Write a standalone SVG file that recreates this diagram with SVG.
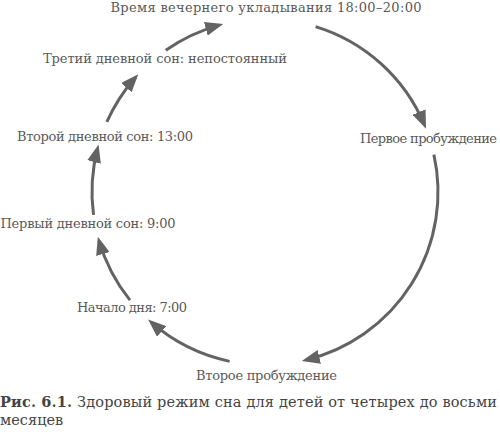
<svg xmlns="http://www.w3.org/2000/svg" width="500" height="434" viewBox="0 0 500 434">
<style>
.lbl{font-family:'DejaVu Serif','Liberation Serif',serif;font-size:13px;fill:#5a5a5a;text-anchor:middle}
.cap{font-family:'DejaVu Serif','Liberation Serif',serif;font-size:14.5px;fill:#444}
.arc{fill:none;stroke:#636363;stroke-width:3}
</style>
<defs>
<marker id="ah" markerUnits="userSpaceOnUse" markerWidth="18" markerHeight="14" viewBox="0 0 18 14" refX="14" refY="7" orient="auto">
<path d="M0,0 L18,7 L0,14 z" fill="#636363"/>
</marker>
</defs>
<rect width="500" height="434" fill="#fff"/>
<g id="connectors">
<path class="arc" marker-end="url(#ah)" d="M165.77,50.28 A173,173 0 0 1 219.35,25.13"/>
<path class="arc" marker-end="url(#ah)" d="M315.58,26.56 A173,173 0 0 1 424.49,124.96"/>
<path class="arc" marker-end="url(#ah)" d="M433.90,154.56 A173,173 0 0 1 305.68,360.15"/>
<path class="arc" marker-end="url(#ah)" d="M229.62,361.35 A173,173 0 0 1 151.11,322.23"/>
<path class="arc" marker-end="url(#ah)" d="M130.00,300.16 A173,173 0 0 1 98.96,240.56"/>
<path class="arc" marker-end="url(#ah)" d="M93.52,214.89 A173,173 0 0 1 97.58,148.39"/>
<path class="arc" marker-end="url(#ah)" d="M106.83,121.92 A173,173 0 0 1 135.63,77.15"/>
</g>
<g id="n-bedtime"><text class="lbl" x="266" y="12" textLength="311" lengthAdjust="spacing">Время вечернего укладывания 18:00–20:00</text></g>
<g id="n-wake1"><text class="lbl" x="428.5" y="143" textLength="137" lengthAdjust="spacing">Первое пробуждение</text></g>
<g id="n-wake2"><text class="lbl" x="266.5" y="380" textLength="141" lengthAdjust="spacing">Второе пробуждение</text></g>
<g id="n-daystart"><text class="lbl" x="132" y="312" textLength="110" lengthAdjust="spacing">Начало дня: 7:00</text></g>
<g id="n-nap1"><text class="lbl" x="88" y="228" textLength="175" lengthAdjust="spacing">Первый дневной сон: 9:00</text></g>
<g id="n-nap2"><text class="lbl" x="105" y="141" textLength="176" lengthAdjust="spacing">Второй дневной сон: 13:00</text></g>
<g id="n-nap3"><text class="lbl" x="165" y="63" textLength="244" lengthAdjust="spacing">Третий дневной сон: непостоянный</text></g>
<g id="caption">
<text class="cap" x="0" y="407" textLength="497" lengthAdjust="spacing"><tspan font-weight="bold">Рис. 6.1.</tspan> Здоровый режим сна для детей от четырех до восьми</text>
<text class="cap" x="0" y="425">месяцев</text>
</g>
</svg>
